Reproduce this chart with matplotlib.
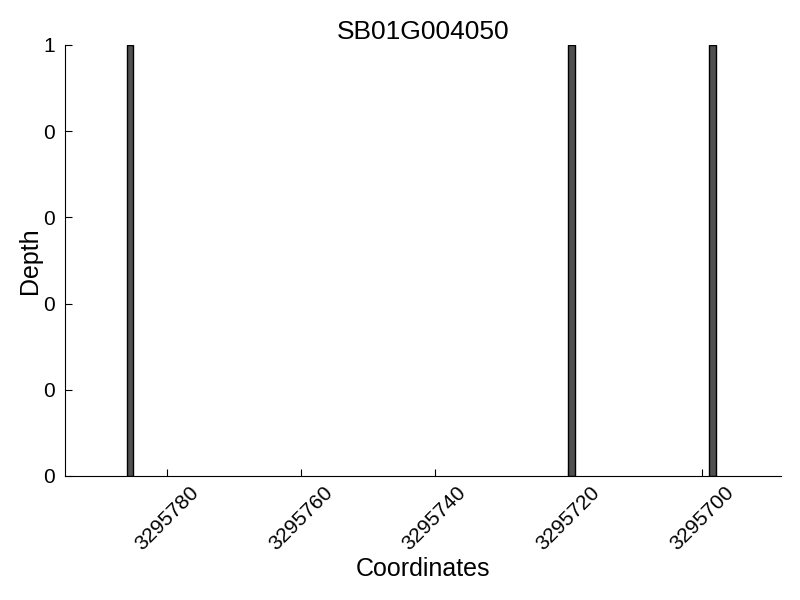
import matplotlib
matplotlib.use("Agg")
import matplotlib.pyplot as plt
from matplotlib.ticker import FormatStrFormatter

plt.rcParams['font.family'] = ['Liberation Sans', 'DejaVu Sans']

title = "SB01G004050"
coords = [3295785, 3295719, 3295698]
depths = [1, 1, 1]
xticks = [3295780, 3295760, 3295740, 3295720, 3295700]
yticks = [0, 0.2, 0.4, 0.6, 0.8, 1.0]

fig = plt.figure(figsize=(8, 6), dpi=100)
ax = fig.add_axes([0.08125, 0.2067, 0.895, 0.7183])
ax.bar(coords, depths, width=1, align='edge', color='#505050', edgecolor='black', linewidth=1)
ax.set_xlim(3295795.2, 3295688.25)
ax.set_ylim(0, 1)
ax.set_xticks(xticks)
ax.set_xticklabels([str(v) for v in xticks], rotation=45, fontsize=15)
ax.set_yticks(yticks)
ax.yaxis.set_major_formatter(FormatStrFormatter('%d'))
ax.tick_params(axis='both', direction='in', length=5, labelsize=15, pad=7)
ax.tick_params(axis='x', pad=5)
for s in ['top', 'right']:
    ax.spines[s].set_visible(False)
ax.set_title(title, fontsize=19, pad=4)
ax.set_xlabel("Coordinates", fontsize=18, labelpad=2)
ax.set_ylabel("Depth", fontsize=18, labelpad=1)
fig.savefig("out.png", dpi=100)
